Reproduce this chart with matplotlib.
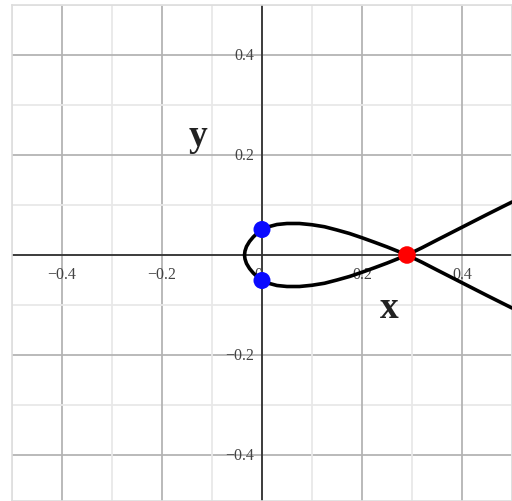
import numpy as np
import matplotlib
matplotlib.use("Agg")
import matplotlib.pyplot as plt

# Upper half of the loop curve (lower half is its mirror)
curve_x = [0.50, 0.45, 0.40, 0.35, 0.32, 0.29, 0.27, 0.25, 0.225, 0.20,
           0.175, 0.15, 0.125, 0.10, 0.075, 0.05, 0.03, 0.015, 0.0,
           -0.009, -0.0175, -0.025, -0.031, -0.034, -0.035]
curve_y = [0.106, 0.081, 0.0555, 0.030, 0.0145, 0.0, 0.0082, 0.0162, 0.0255, 0.0345,
           0.043, 0.050, 0.0565, 0.0605, 0.063, 0.063, 0.061, 0.057, 0.051,
           0.044, 0.036, 0.027, 0.017, 0.008, 0.0]

blue_x = [0.0, 0.0]
blue_y = [0.051, -0.051]
red_x = [0.29]
red_y = [0.0]

xticks = [-0.4, -0.2, 0.0, 0.2, 0.4]
xtick_labels = ["\u22120.4", "\u22120.2", "0", "0.2", "0.4"]
yticks = [0.4, 0.2, -0.2, -0.4]
ytick_labels = ["0.4", "0.2", "\u22120.2", "\u22120.4"]

fig = plt.figure(figsize=(5.12, 5.02), dpi=100)
ax = fig.add_axes([12 / 512, 0, 500 / 512, 496 / 502])
ax.set_xlim(-0.5, 0.5)
ax.set_ylim(-0.492, 0.5)

# grid: major every 0.2, minor every 0.1
for v in np.arange(-0.5, 0.51, 0.1):
    v = round(v, 2)
    major = abs(round(v / 0.2) * 0.2 - v) < 1e-9
    col = "#b4b4b4" if major else "#e8e8e8"
    ax.axvline(v, color=col, lw=1.3, zorder=0)
    ax.axhline(v, color=col, lw=1.3, zorder=0)

ax.axhline(0, color="#333333", lw=1.3, zorder=1)
ax.axvline(0, color="#333333", lw=1.3, zorder=1)

for s in ax.spines.values():
    s.set_color("#dddddd")
    s.set_linewidth(1.2)
ax.set_xticks([])
ax.set_yticks([])

# tick labels
tfont = dict(family="Liberation Serif", fontsize=11.5, color="#444444")
for v, lab in zip(xticks, xtick_labels):
    off = -0.008 if v == 0 else 0
    ax.text(v + off, -0.038, lab, ha="center", va="center", **tfont)
for v, lab in zip(yticks, ytick_labels):
    ax.text(-0.016, v, lab, ha="right", va="center", **tfont)

# curve
xs = curve_x + curve_x[::-1][1:]
ys = curve_y + [-y for y in curve_y[::-1][1:]]
ax.plot(xs, ys, color="black", lw=2.6, zorder=3,
        solid_capstyle="round", solid_joinstyle="round")

ax.scatter(blue_x, blue_y, s=150, color="#0a0aff", zorder=4, edgecolors="none")
ax.scatter(red_x, red_y, s=160, color="#ff0000", zorder=4, edgecolors="none")

lfont = dict(family="Liberation Serif", fontsize=27, fontweight="bold", color="#222222")
ax.text(0.254, -0.106, "x", ha="center", va="center", **lfont)
ax.text(-0.128, 0.24, "y", ha="center", va="center", **lfont)

fig.savefig("out.png", dpi=100)
